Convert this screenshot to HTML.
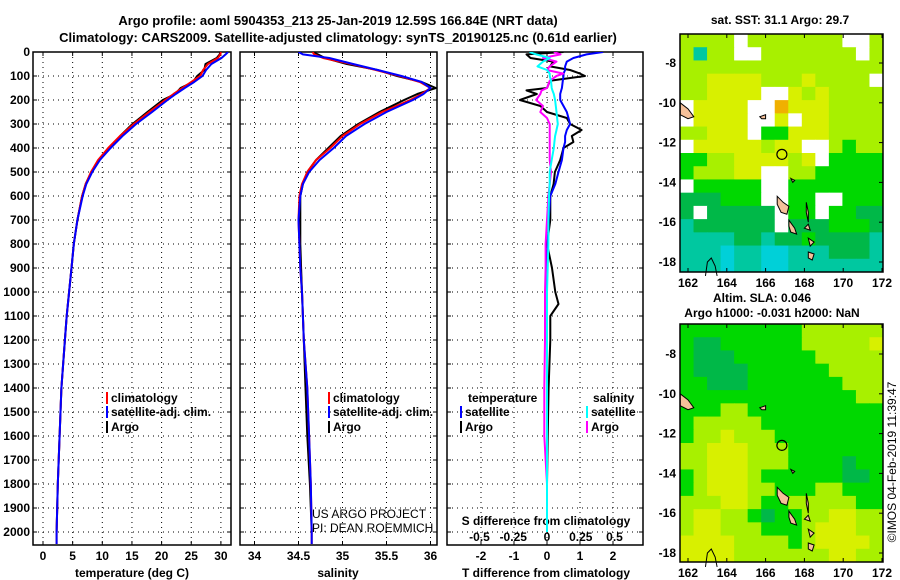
<!DOCTYPE html>
<html><head><meta charset="utf-8"><style>
html,body{margin:0;padding:0;background:#fff;}
svg{display:block;font-family:"Liberation Sans",sans-serif;}
.b{font-weight:bold;}
</style></head><body>
<svg id="svg" width="900" height="580" viewBox="0 0 900 580"></svg>
<script>
// ---------- profile data ----------
const depths = [0,10,25,50,75,100,125,150,175,200,250,300,350,400,450,500,550,600,700,800,900,1000,1100,1200,1400,1600,1800,2000,2050];
const tempClim = [30.0,29.9,29.5,27.8,27.0,26.5,25.0,23.5,22.0,20.6,17.9,15.3,13.0,11.0,9.3,8.1,7.2,6.6,5.8,5.2,4.8,4.4,4.0,3.7,3.1,2.8,2.5,2.3,2.3];
const tempArgo = [29.9,29.8,29.3,27.4,27.2,26.0,25.3,23.2,22.3,20.2,17.6,15.1,13.0,11.1,9.5,8.2,7.2,6.6,5.8,5.2,4.8,4.4,4.0,3.7,3.1,2.8,2.5,2.3];
const tempSat = [31.2,30.8,30.1,28.4,27.5,26.9,25.5,23.9,22.4,21.0,18.4,15.7,13.4,11.4,9.6,8.3,7.3,6.7,5.8,5.2,4.8,4.4,4.0,3.7,3.1,2.8,2.5,2.3,2.3];
const salClim = [34.66,34.68,34.78,35.10,35.38,35.65,35.88,36.00,35.90,35.77,35.45,35.20,35.00,34.86,34.70,34.60,34.54,34.51,34.50,34.51,34.52,34.54,34.55,34.56,34.60,34.62,34.64,34.65,34.65];
const salArgo = [34.66,34.72,34.80,35.05,35.40,35.62,35.90,36.06,35.85,35.70,35.42,35.18,34.98,34.84,34.70,34.60,34.55,34.52,34.52,34.52,34.53,34.54,34.55,34.56,34.58,34.60,34.63,34.65];
const salSat = [34.50,34.55,34.85,35.12,35.40,35.67,35.90,36.00,35.92,35.80,35.50,35.25,35.04,34.90,34.74,34.62,34.55,34.52,34.50,34.51,34.52,34.54,34.55,34.56,34.60,34.62,34.64,34.65,34.65];
// ---------- difference data ----------
const diffDepths = [0,10,25,40,60,75,90,100,120,150,160,175,200,225,250,275,300,325,350,375,400,450,500,550,600,700,800,900,1000,1050,1100,1200,1400,1600,1800,2000];
const tDiffArgo = [0.5,-0.62,-0.5,0.19,0.09,0.7,1.0,1.15,0.09,0,-0.62,-0.31,-0.82,-0.2,0,0.6,0.7,1.05,0.75,0.8,0.5,0.4,0.24,0.2,0.1,0.1,0,0.15,0.25,0.35,0.1,0.1,0.05,0.02,0,0];
const tDiffSat = [1.7,1.2,0.8,0.6,0.55,0.55,0.5,0.5,0.48,0.45,0.43,0.4,0.4,0.5,0.6,0.65,0.7,0.6,0.55,0.55,0.5,0.45,0.35,0.25,0.1,0.05,0.02,0,0,0,0,0,0,0,0,0];
const sDiffArgo = [0.05,0.1,-0.03,0.07,0.02,0,0.12,0.07,0.02,0,-0.04,-0.05,-0.08,-0.03,-0.05,0,0.02,0.02,0.02,0.02,0.02,0.02,0.03,0.02,0.01,0,-0.01,-0.01,-0.015,-0.015,-0.015,-0.015,-0.02,-0.02,0,0];
const sDiffSat = [-0.13,-0.08,0.02,-0.03,-0.07,0,0.02,0.02,0.03,0.035,0.04,0.05,0.06,0.065,0.07,0.075,0.08,0.07,0.06,0.055,0.05,0.035,0.02,0.02,0.015,0.01,0.01,0.005,0,0,0,0,0,0,0,0];
// ---------- tick labels ----------
const depthTicks = [0,100,200,300,400,500,600,700,800,900,1000,1100,1200,1300,1400,1500,1600,1700,1800,1900,2000];
const tempTicks = [0,5,10,15,20,25,30];
const salTicks = [34,34.5,35,35.5,36];
const tDiffTicks = [-2,-1,0,1,2];
const sDiffTicks = [-0.5,-0.25,0,0.25,0.5];
const latTicks = [-8,-10,-12,-14,-16,-18];
const lonTicks = [162,164,166,168,170,172];
const argoLon = 166.84, argoLat = -12.59;

const NS="http://www.w3.org/2000/svg";
const svg=document.getElementById('svg');
function el(tag,attrs,parent){const e=document.createElementNS(NS,tag);for(const k in attrs)e.setAttribute(k,attrs[k]);(parent||svg).appendChild(e);return e;}
function txt(s,x,y,opts,parent){const t=el('text',Object.assign({x:x,y:y,'font-size':12,'font-weight':'bold','text-anchor':'middle'},opts||{}),parent);t.textContent=s;return t;}

const TOP=52,BOT=545;
const yD=d=>TOP+d*0.24;
const panels=[{x0:33,x1:231},{x0:240,x1:437},{x0:447,x1:643}];
const xT=v=>43+v*5.93;
const xS=v=>254.5+(v-34)*88;
const xTd=v=>547+v*33;
const xSd=v=>547+v*135;

// titles
let t;
t=txt('Argo profile: aoml 5904353_213 25-Jan-2019 12.59S 166.84E (NRT data)',338,25,{'font-size':13});

t=txt('Climatology: CARS2009. Satellite-adjusted climatology: synTS_20190125.nc (0.61d earlier)',338,42,{'font-size':13});


// panel frames + grids
panels.forEach((p,i)=>{
  const g=el('g',{});
  
  
  depthTicks.forEach(d=>{
    const y=yD(d);
    el('line',{x1:p.x0,x2:p.x1,y1:y,y2:y,stroke:'#000','stroke-width':1,'stroke-dasharray':'1,4'},g);
    el('line',{x1:p.x0,x2:p.x0+4,y1:y,y2:y,stroke:'#000'},g);
    el('line',{x1:p.x1-4,x2:p.x1,y1:y,y2:y,stroke:'#000'},g);
  });
  el('rect',{x:p.x0,y:TOP,width:p.x1-p.x0,height:BOT-TOP,fill:'none',stroke:'#000','stroke-width':1.5},g);
  const cp=el('clipPath',{id:'cp'+i});el('rect',{x:p.x0,y:TOP,width:p.x1-p.x0,height:BOT-TOP},cp);
});
function vgrid(xs,fn,p){xs.forEach(v=>{const x=fn(v);el('line',{x1:x,x2:x,y1:TOP,y2:BOT,stroke:'#000','stroke-width':1,'stroke-dasharray':'1,4'});el('line',{x1:x,x2:x,y1:BOT-4,y2:BOT,stroke:'#000'});el('line',{x1:x,x2:x,y1:TOP,y2:TOP+4,stroke:'#000'});});}
vgrid(tempTicks,xT);vgrid(salTicks,xS);vgrid(tDiffTicks,xTd);

// depth tick labels
depthTicks.forEach(d=>{const tt=txt(String(d),30,yD(d)+4,{'text-anchor':'end'});
});
tempTicks.forEach(v=>{const tt=txt(String(v),xT(v),560);});
salTicks.forEach(v=>{const tt=txt(String(v),xS(v),560);});
tDiffTicks.forEach(v=>{const tt=txt(String(v),xTd(v),560);});
sDiffTicks.forEach(v=>{const tt=txt(String(v).replace('0.','.').replace('-.','-0.').replace(/^\.(\d)$/,'0.$1'),xSd(v),541);tt.textContent=String(v);});

t=txt('temperature (deg C)',132,577);
t=txt('salinity',338,577);
t=txt('T difference from climatology',546,577);
t=txt('S difference from climatology',546,525);

// series
function line(ds,vals,fx,color,clip,name,w){
  const n=Math.min(ds.length,vals.length);
  let dd='';for(let i=0;i<n;i++){dd+=(i?'L':'M')+fx(vals[i]).toFixed(1)+','+yD(ds[i]).toFixed(1);}
  const p=el('path',{d:dd,fill:'none',stroke:color,'stroke-width':w||2,'stroke-linejoin':'round','clip-path':'url(#'+clip+')'});
  
}
line(depths,tempArgo,xT,'#000','cp0','temperature-argo-line');
line(depths,tempClim,xT,'#f00','cp0','temperature-climatology-line');
line(depths,tempSat,xT,'#00f','cp0','temperature-satellite-line');
line(depths,salArgo,xS,'#000','cp1','salinity-argo-line');
line(depths,salClim,xS,'#f00','cp1','salinity-climatology-line');
line(depths,salSat,xS,'#00f','cp1','salinity-satellite-line');
line(diffDepths,tDiffArgo,xTd,'#000','cp2','t-diff-argo-line');
line(diffDepths,tDiffSat,xTd,'#00f','cp2','t-diff-satellite-line');
line(diffDepths,sDiffArgo,xSd,'#f0f','cp2','s-diff-argo-line');
line(diffDepths,sDiffSat,xSd,'#0ff','cp2','s-diff-satellite-line');

// legends
function leg(x,y,color,label,name){const g=el('g',{});
  el('rect',{x:x,y:y-10,width:2,height:12,fill:color},g);txt(label,x+5,y,{'text-anchor':'start'},g);}
leg(106,402,'#f00','climatology','legend-climatology-temp');
leg(106,416,'#00f','satellite-adj. clim.','legend-satellite-temp');
leg(106,431,'#000','Argo','legend-argo-temp');
leg(328,402,'#f00','climatology','legend-climatology-sal');
leg(328,416,'#00f','satellite-adj. clim.','legend-satellite-sal');
leg(328,431,'#000','Argo','legend-argo-sal');
t=txt('temperature',468,402,{'text-anchor':'start'});
t=txt('salinity',593,402,{'text-anchor':'start'});
leg(460,416,'#00f','satellite','legend-t-satellite');
leg(460,431,'#000','Argo','legend-t-argo');
leg(586,416,'#0ff','satellite','legend-s-satellite');
leg(586,431,'#f0f','Argo','legend-s-argo');
t=txt('US ARGO PROJECT',312,518,{'text-anchor':'start','font-weight':'normal'});
t=txt('PI: DEAN ROEMMICH',312,532,{'text-anchor':'start','font-weight':'normal'});

// ---------- maps ----------
const pal={W:'#ffffff',Y:'#d8f000',L:'#a8f000',G:'#00d800',D:'#00b848',T:'#00c8a0',C:'#00d0d8',O:'#f0b000',B:'#1890e0'};
const sstGrid=[
'LLLLWLLLLLLLWWL','LTLLWWLLLLLLLWL','LLLLLLLLLLLLLLL','LLYYYYLLLYLLLLW','LLYYYYWWYLYLLLL',
'WYYYYWWOYYYLLLL','WYYYYWWYWYYLLLL','LLYYYWGGYYYLLLL','WYYYYYLYYWWLGLL','GGLLYYYYLYWGGGG',
'GLLLYYWWLLGGGGG','WGGGGGWWGGGGGGG','DDDGGGWWGGWWGGG','DWDDDDDWGGWGGDD','TDDDDDDWDDDGGGD',
'TTTTDDTDDGDDDDT','TTTCTTCCTTTDDDT','TTTCTTCCTTTTTTT'];
const slaGrid=[
'GGGGGGGGGLLLLLL','GDDGGGGGGLLLLLY','GDDDGGGGGGLLLLL','GDDDDGGGGGGLLLL','GGDDDGGGGGGGLLL',
'GGGGGGGGGGGGGLL','GGGLLGGGGGGGGGG','GLLLLLGGGGGGGGG','GLLYLLLGGGGGGGG','LLYYYLLLGGGGGGG',
'LLYYYLLLGGGGDGG','GLYYYLGGGGGGDDG','GLYYYLLGGGLLGGG','LLLYYLGGLLLLLGG','LYYLLGDGGLLYYLL',
'LYYLLLGGGLYYYLL','YYYYLLLLGLYYYYL','YYYYLLLLLLLYYLL'];
function drawMap(name,top,bottom,yLat8,grid,title1,title2){
  const L=680,R=883;
  const g=el('g',{});
  const rows=grid.length,cols=grid[0].length,cw=(R-L)/cols,ch=(bottom-top)/rows;
  grid.forEach((row,r)=>{for(let c=0;c<cols;c++){el('rect',{x:L+c*cw,y:top+r*ch,width:cw+0.5,height:ch+0.5,fill:pal[row[c]]},g);}});
  const px=lon=>688+(lon-162)*19.4, py=lat=>yLat8+(-8-lat)*19.9;
  const isl=[[[161.6,-10.0],[162.0,-10.3],[162.3,-10.7],[162.0,-10.8],[161.6,-10.6]],
    [[166.6,-14.7],[166.9,-15.0],[167.2,-15.2],[167.1,-15.6],[166.8,-15.5],[166.6,-15.1]],
    [[167.2,-15.9],[167.5,-16.3],[167.6,-16.6],[167.3,-16.5],[167.2,-16.2]],
    [[168.1,-15.0],[168.2,-15.5],[168.2,-16.0],[168.1,-15.5]],
    [[168.0,-16.3],[168.3,-16.4],[168.2,-16.1]],
    [[168.2,-16.8],[168.5,-17.0],[168.3,-17.2]],
    [[168.2,-17.5],[168.5,-17.6],[168.4,-17.9],[168.2,-17.8]],
    [[167.3,-13.8],[167.5,-13.9],[167.4,-14.0]],
    [[165.7,-10.7],[166.0,-10.6],[166.0,-10.8],[165.8,-10.8]]];
  isl.forEach(poly=>{el('polygon',{points:poly.map(p=>px(p[0]).toFixed(1)+','+py(p[1]).toFixed(1)).join(' '),fill:'#f5c09a',stroke:'#000','stroke-width':1},g);});
  el('polyline',{points:[[162.9,-18.7],[163.0,-18.0],[163.2,-17.8],[163.4,-18.2],[163.5,-18.7]].map(p=>px(p[0])+','+py(p[1])).join(' '),fill:'none',stroke:'#000','stroke-width':1},g);
  const c=el('circle',{cx:px(argoLon),cy:py(argoLat),r:5,fill:'none',stroke:'#000','stroke-width':1.2});
  
  el('rect',{x:L,y:top,width:R-L,height:bottom-top,fill:'none',stroke:'#000','stroke-width':1.5},g);
  latTicks.forEach(v=>{const y=py(v);el('line',{x1:R-4,x2:R,y1:y,y2:y,stroke:'#000'},g);
    const tt=txt(String(v),676,y+4,{'text-anchor':'end'});});
  lonTicks.forEach(v=>{const x=px(v);el('line',{x1:x,x2:x,y1:bottom-4,y2:bottom,stroke:'#000'},g);el('line',{x1:x,x2:x,y1:top,y2:top+4,stroke:'#000'},g);
    const tt=txt(String(v),x,bottom+15);});
}
drawMap('sst-map',34,272,63,sstGrid);
drawMap('sla-map',324,562,354,slaGrid);
t=txt('sat. SST: 31.1 Argo: 29.7',780,24);
t=txt('Altim. SLA: 0.046',762,302);
t=txt('Argo h1000: -0.031 h2000: NaN',772,317);
t=txt('©IMOS 04-Feb-2019 11:39:47',0,0,{'font-weight':'normal','transform':'translate(896,462) rotate(-90)'});

</script>
</body></html>
